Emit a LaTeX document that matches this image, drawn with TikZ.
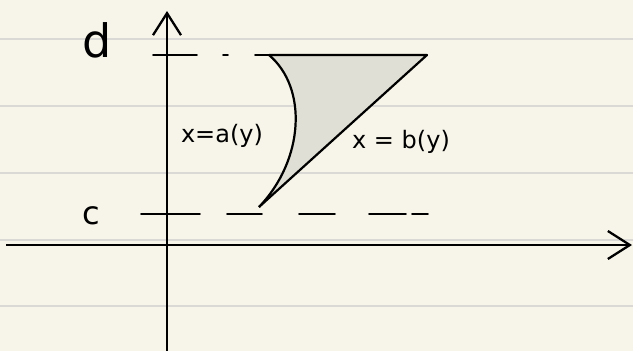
\documentclass[tikz,border=0pt]{standalone}
\usepackage{fontspec}
\setmainfont{DejaVu Sans}
\usetikzlibrary{arrows.meta, positioning}
\definecolor{paper}{HTML}{F7F5E9}
\definecolor{ruling}{HTML}{DAD9D5}
\definecolor{regfill}{HTML}{DFDFD5}
\tikzset{
  axis/.style={line width=2.3pt, -{Straight Barb[length=22pt,width=28pt,line width=2.3pt]}},
  rule/.style={ruling, line width=1.4pt},
  edge/.style={line width=2.2pt, line join=round},
  dsh/.style={line width=1.6pt, line cap=round},
  lbl/.style={font=\fontsize{24}{24}\selectfont, inner sep=0pt},
  big/.style={font=\fontsize{46}{46}\selectfont, inner sep=0pt}
}

\begin{document}
\begin{tikzpicture}[x=1pt, y=-1pt]

  % paper and ruling
  \fill[paper] (0,0) rectangle (633,351);
  \useasboundingbox (0,0) rectangle (633,351);
  \foreach \y in {39,106,173,240,306}
    \draw[rule] (0,\y) -- (633,\y);

  % axes
  \coordinate (ybot) at (167,351);
  \coordinate (ytop) at (167,11);
  \coordinate (xleft) at (6,245);
  \coordinate (xright) at (632,245);
  \draw[axis] (xleft) -- (xright);
  \draw[axis] (ybot) -- (ytop);

  % region between x=a(y) and x=b(y)
  \coordinate (dl) at (269,55);
  \coordinate (dr) at (427,55);
  \coordinate (tip) at (259,207);
  \fill[regfill] (dl) .. controls (308,88) and (304,160) .. (tip) -- (dr) -- cycle;
  \draw[edge] (dl) .. controls (308,88) and (304,160) .. (tip);
  \draw[edge] (dl) -- (dr) -- (tip);

  % levels d and c
  \foreach \a/\b in {153/197, 223/228, 255/269}
    \draw[dsh] (\a,55) -- (\b,55);
  \foreach \a/\b in {141/200, 227/262, 299/335, 369/406, 412/428}
    \draw[dsh] (\a,214) -- (\b,214);

  % labels
  \node[big] (d) at (97,40) {d};
  \node[big, font=\fontsize{32}{32}\selectfont] (c) at (91,216) {c};
  \node[lbl] (ay) at (222,136) {x=a(y)};
  \node[lbl] (by) at (401,142) {x = b(y)};

\end{tikzpicture}
\end{document}
